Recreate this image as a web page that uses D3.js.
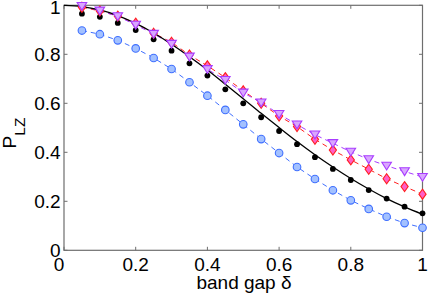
<!DOCTYPE html>
<html><head><meta charset="utf-8">
<script src="https://cdn.jsdelivr.net/npm/d3@7"></script>
<style>body{margin:0;background:#fff}svg{display:block}text{font-family:"Liberation Sans",Arial,Helvetica,sans-serif}</style>
</head><body>
<script>
const deltas = [0.05,0.1,0.15,0.2,0.25,0.3,0.35,0.4,0.45,0.5,0.55,0.6,0.65,0.7,0.75,0.8,0.85,0.9,0.95,1.0];
const blueCircles = [0.897,0.882,0.857,0.824,0.785,0.740,0.686,0.631,0.573,0.514,0.454,0.397,0.340,0.291,0.245,0.204,0.169,0.137,0.111,0.092];
const blackDots = [0.966,0.953,0.928,0.899,0.861,0.815,0.763,0.713,0.657,0.600,0.543,0.487,0.433,0.380,0.332,0.287,0.246,0.211,0.178,0.151];
const redDiamonds = [0.992,0.977,0.956,0.927,0.886,0.849,0.797,0.753,0.705,0.651,0.600,0.548,0.505,0.453,0.409,0.369,0.331,0.292,0.260,0.229];
const purpleTriangles = [0.997,0.978,0.955,0.920,0.883,0.842,0.790,0.739,0.695,0.643,0.603,0.556,0.513,0.472,0.437,0.402,0.371,0.345,0.322,0.299];
const curveX = [0,0.05,0.1,0.15,0.2,0.25,0.3,0.35,0.4,0.45,0.5,0.55,0.6,0.65,0.7,0.75,0.8,0.85,0.9,0.95,1.0];
const curveY = [1,0.995,0.981,0.958,0.926,0.887,0.841,0.790,0.736,0.678,0.619,0.559,0.501,0.444,0.390,0.340,0.293,0.250,0.211,0.177,0.147];
const xTicks = [0,0.2,0.4,0.6,0.8,1];
const yTicks = [0,0.2,0.4,0.6,0.8,1];
const xTickLabels = ["0","0.2","0.4","0.6","0.8","1"];
const yTickLabels = ["0","0.2","0.4","0.6","0.8","1"];

const W=436,H=295;
const svg=d3.select("body").append("svg").attr("width",W).attr("height",H);
const L=64,R=422.5,T=5.3,B=250.3;
const x=d3.scaleLinear().domain([0,1]).range([L,R]);
const y=d3.scaleLinear().domain([0,1]).range([B,T]);
const axisCol="#6e6e6e";

svg.append("rect").attr("x",L).attr("y",T).attr("width",R-L).attr("height",B-T)
  .attr("fill","none").attr("stroke",axisCol).attr("stroke-width",1.2);

const tl=3.5;
xTicks.forEach(v=>{
  svg.append("line").attr("x1",x(v)).attr("x2",x(v)).attr("y1",B).attr("y2",B-tl).attr("stroke",axisCol);
  svg.append("line").attr("x1",x(v)).attr("x2",x(v)).attr("y1",T).attr("y2",T+tl).attr("stroke",axisCol);
});
yTicks.forEach(v=>{
  svg.append("line").attr("x1",L).attr("x2",L+tl).attr("y1",y(v)).attr("y2",y(v)).attr("stroke",axisCol);
  svg.append("line").attr("x1",R).attr("x2",R-tl).attr("y1",y(v)).attr("y2",y(v)).attr("stroke",axisCol);
});
const fs=19;
xTicks.forEach((v,i)=>{
  svg.append("text").attr("x",x(v)+(i===0?-5:0)).attr("y",270.7).attr("text-anchor","middle")
   .attr("font-size",fs).attr("fill","#000").text(xTickLabels[i]);
});
yTicks.forEach((v,i)=>{
  svg.append("text").attr("x",60.7).attr("y",Math.max(y(v)+6.8,13.8)).attr("text-anchor","end")
   .attr("font-size",fs).attr("fill","#000").text(yTickLabels[i]);
});
svg.append("text").attr("x",244).attr("y",289).attr("text-anchor","middle").attr("font-size",fs).text("band gap δ");
const yl=svg.append("text").attr("transform","translate(15.5,133) rotate(-90)").attr("text-anchor","middle").attr("font-size",fs);
yl.append("tspan").text("P");
yl.append("tspan").attr("dy",9.5).attr("font-size",15.5).text("LZ");

const g=svg.append("g");
const line=d3.line().x(d=>x(d[0])).y(d=>y(d[1]));
function series(vals,color,dash){
  g.append("path").datum(deltas.map((d,i)=>[d,vals[i]])).attr("d",line)
   .attr("fill","none").attr("stroke",color).attr("stroke-width",1).attr("stroke-dasharray",dash);
}
series(blueCircles,"#3f6fff","5,4");
series(redDiamonds,"#ff2020","5,4");
series(purpleTriangles,"#a83cff","5,4");
g.append("path").datum(curveX.map((d,i)=>[d,curveY[i]]))
 .attr("d",d3.line().x(d=>x(d[0])).y(d=>y(d[1])).curve(d3.curveMonotoneX))
 .attr("fill","none").attr("stroke","#000").attr("stroke-width",1.3);

g.selectAll(".bc").data(deltas).enter().append("circle")
 .attr("cx",d=>x(d)).attr("cy",(d,i)=>y(blueCircles[i])).attr("r",3.8)
 .attr("fill","#a3c1ff").attr("stroke","#3f6fff").attr("stroke-width",1.1);
g.selectAll(".kd").data(deltas).enter().append("circle")
 .attr("cx",d=>x(d)).attr("cy",(d,i)=>y(blackDots[i])).attr("r",2.9).attr("fill","#000");
g.selectAll(".rd").data(deltas).enter().append("path")
 .attr("d","M0,-5L3.6,0L0,5L-3.6,0Z")
 .attr("transform",(d,i)=>`translate(${x(d)},${y(redDiamonds[i])})`)
 .attr("fill","#ff5fc8").attr("stroke","#ff2020").attr("stroke-width",1.1);
g.selectAll(".pt").data(deltas).enter().append("path")
 .attr("d","M-4.8,-3.6L4.8,-3.6L0,4.2Z")
 .attr("transform",(d,i)=>`translate(${x(d)},${y(purpleTriangles[i])})`)
 .attr("fill","#d9a6ff").attr("stroke","#a83cff").attr("stroke-width",1.1);
</script>
</body></html>
